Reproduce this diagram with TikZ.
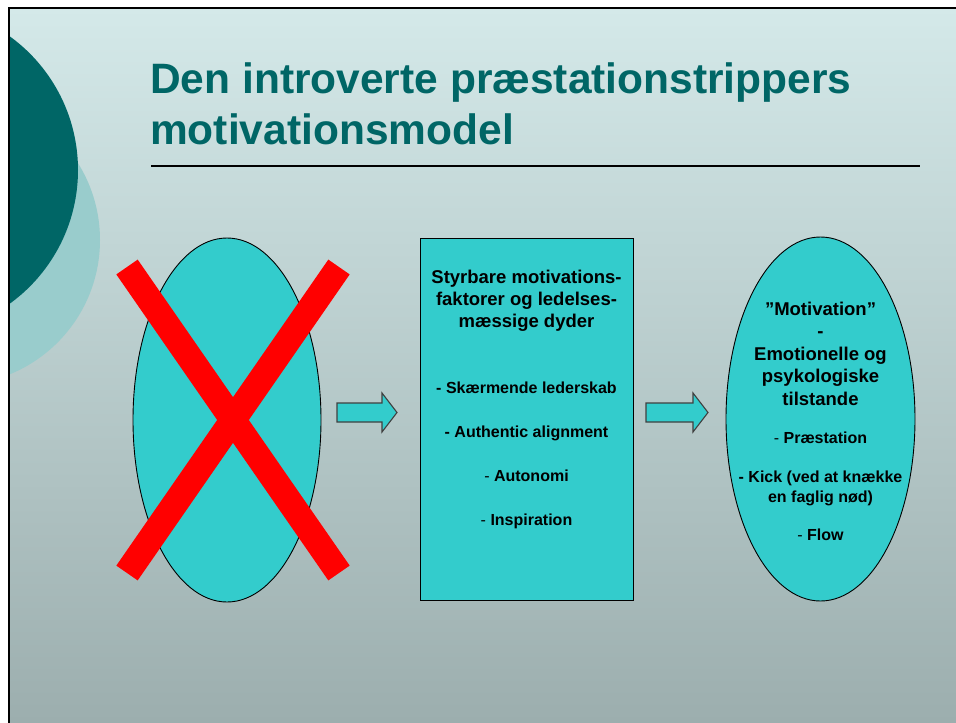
\documentclass[tikz,border=0pt]{standalone}
\usepackage{fontspec}
\setmainfont{Liberation Sans}
\usetikzlibrary{shapes.geometric}
\definecolor{teal}{RGB}{0,102,102}
\definecolor{lightteal}{RGB}{153,204,204}
\definecolor{fillc}{RGB}{51,204,204}
\definecolor{bgtop}{RGB}{212,233,233}
\definecolor{bgbot}{RGB}{156,174,174}
\newcommand{\thindash}{{\mdseries -}}
\begin{document}
\begin{tikzpicture}[x=1pt,y=-1pt,
  hd/.style={font=\fontsize{18.5}{22}\selectfont\bfseries, anchor=base, inner sep=0pt},
  it/.style={font=\fontsize{16}{20}\selectfont\bfseries, anchor=base, inner sep=0pt},
  ttl/.style={font=\fontsize{42.5}{51}\selectfont\bfseries, text=teal, anchor=base west, inner sep=0pt},
  shapebox/.style={draw=black, line width=0.9pt, fill=fillc, inner sep=0pt},
  blockarrow/.style={draw=black!75, line width=1.1pt, fill=fillc, line join=miter},
  cross/.style={draw=red, line width=26pt, line cap=butt}]
\useasboundingbox (0,0) rectangle (956,723);
\fill[white] (0,0) rectangle (956,723);
% slide background
\shade[top color=bgtop, bottom color=bgbot] (8,7) rectangle (956,723);
\begin{scope}
  \clip (8,7) rectangle (956,723);
  \fill[lightteal] (-45,240) circle (145);
  \fill[teal] (-87,170) circle (165);
\end{scope}
\draw[black, line width=2pt] (8,7.5) -- (956,7.5);
\draw[black, line width=2pt] (8.5,7) -- (8.5,723);
% title
\node[ttl] (t1) at (150,93) {Den introverte præstationstrippers};
\node[ttl] (t2) at (150,144) {motivationsmodel};
\draw[black, line width=2pt] (151,166) -- (920,166);
% left ellipse with cross
\node[shapebox, ellipse, minimum width=188pt, minimum height=364pt] (e1) at (227,420) {};
\draw[cross] (127,267) -- (339,573);
\draw[cross] (339,267) -- (127,573);
% middle box
\node[shapebox, rectangle, minimum width=213pt, minimum height=362pt] (box) at (526.5,419) {};
\node[hd] (b1) at (526.5,283) {Styrbare motivations-};
\node[hd] (b2) at (526.5,305) {faktorer og ledelses-};
\node[hd] (b3) at (526.5,327) {mæssige dyder};
\node[it] (b4) at (526.5,393) {- Skærmende lederskab};
\node[it] (b5) at (526.5,437) {- Authentic alignment};
\node[it] (b6) at (526.5,481) {\thindash{} Autonomi};
\node[it] (b7) at (526.5,525) {\thindash{} Inspiration};
% right ellipse
\node[shapebox, ellipse, minimum width=189pt, minimum height=364pt] (e2) at (820.5,419) {};
\node[hd] (r1) at (820.5,315) {”Motivation”};
\node[hd] (r2) at (820.5,337.5) {-};
\node[hd] (r3) at (820.5,360) {Emotionelle og};
\node[hd] (r4) at (820.5,382.5) {psykologiske};
\node[hd] (r5) at (820.5,405) {tilstande};
\node[it] (r6) at (820.5,443) {\thindash{} Præstation};
\node[it] (r7) at (820.5,482) {- Kick (ved at knække};
\node[it] (r8) at (820.5,502) {en faglig nød)};
\node[it] (r9) at (820.5,540) {\thindash{} Flow};
% block arrows
\draw[blockarrow] (337,403) -- (382,403) -- (382,393) -- (397,412.5) -- (382,432) -- (382,422) -- (337,422) -- cycle;
\draw[blockarrow] (646,403) -- (693,403) -- (693,393) -- (708,412.5) -- (693,432) -- (693,422) -- (646,422) -- cycle;
\end{tikzpicture}
\end{document}
